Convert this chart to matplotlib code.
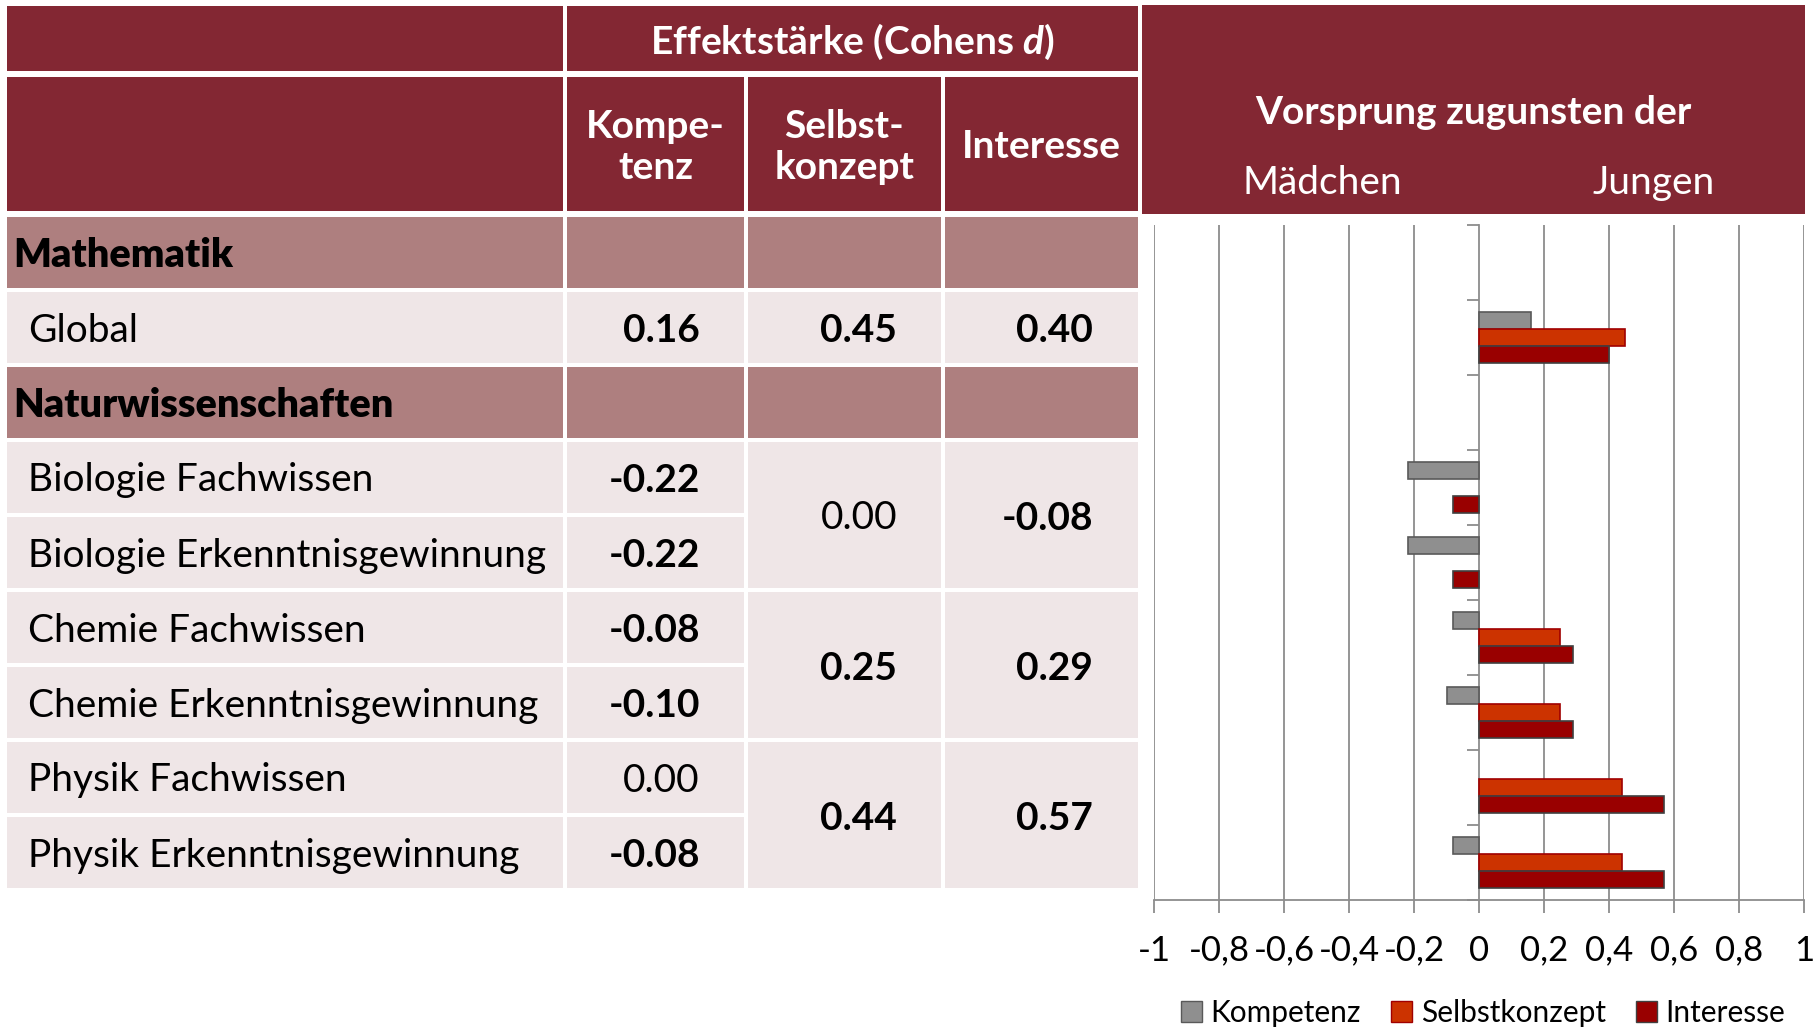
import numpy as np
import matplotlib
matplotlib.use("Agg")
import matplotlib.pyplot as plt
from matplotlib.patches import Rectangle, Patch

plt.rcParams['font.family'] = ['Lato', 'DejaVu Sans']
plt.rcParams['mathtext.fontset'] = 'custom'
plt.rcParams['mathtext.it'] = 'Lato:italic:bold'
plt.rcParams['mathtext.rm'] = 'Lato:bold'

# data
categories = ["Mathematik", "Global", "Naturwissenschaften",
              "Biologie Fachwissen", "Biologie Erkenntnisgewinnung",
              "Chemie Fachwissen", "Chemie Erkenntnisgewinnung",
              "Physik Fachwissen", "Physik Erkenntnisgewinnung"]
is_heading = [True, False, True, False, False, False, False, False, False]
kompetenz = [np.nan, 0.16, np.nan, -0.22, -0.22, -0.08, -0.10, 0.00, -0.08]
selbstkonzept = [np.nan, 0.45, np.nan, 0.00, 0.00, 0.25, 0.25, 0.44, 0.44]
interesse = [np.nan, 0.40, np.nan, -0.08, -0.08, 0.29, 0.29, 0.57, 0.57]
kompetenz_bold = [False, True, False, True, True, True, True, False, True]
selbst_bold = [False, True, False, False, False, True, True, True, True]
interesse_bold = [False, True, False, True, True, True, True, True, True]
# merged cells in the table: (first row, last row)
merged = [(1, 1), (3, 4), (5, 6), (7, 8)]
xticks = [-1, -0.8, -0.6, -0.4, -0.2, 0, 0.2, 0.4, 0.6, 0.8, 1]
series_names = ["Kompetenz", "Selbstkonzept", "Interesse"]

HEAD = "#832733"
SUB = "#ae7f7f"
LIGHT = "#efe6e7"
GRID = "#8c8c8c"
bar_colors = ["#8f8f8f", "#cc3300", "#990000"]
bar_edges = ["#595959", "#a00000", "#404040"]

W, H = 1814, 1028
fig = plt.figure(figsize=(W / 100, H / 100), dpi=100)

# background layer in pixel coords for the table
bg = fig.add_axes([0, 0, 1, 1])
bg.set_xlim(0, W)
bg.set_ylim(H, 0)
bg.axis("off")

col_x = [5, 565, 746, 943, 1140]
row_top = 215
row_h = 75
g = 2
dy = 3  # text baseline nudge

def cell(x0, x1, y0, y1, color):
    bg.add_patch(Rectangle((x0 + g, y0 + g), x1 - x0 - 2 * g, y1 - y0 - 2 * g,
                           facecolor=color, edgecolor="none"))

# header
cell(col_x[0], col_x[1], 4, 73, HEAD)
cell(col_x[1], col_x[4], 4, 73, HEAD)
cell(col_x[0], col_x[1], 75, 213, HEAD)
for i in range(1, 4):
    cell(col_x[i], col_x[i + 1], 75, 213, HEAD)
bg.add_patch(Rectangle((1142, 5), 663, 209, facecolor=HEAD, edgecolor="none"))

fs = 28
hfs = 28
bg.text((col_x[1] + col_x[4]) / 2, 42, r"Effektstärke (Cohens $d$)", color="white",
        fontsize=hfs, fontweight="bold", ha="center", va="center")
for i, lab in enumerate(["Kompe-\ntenz", "Selbst-\nkonzept", "Interesse"]):
    bg.text((col_x[i + 1] + col_x[i + 2]) / 2, 147, lab, color="white", fontsize=hfs,
            fontweight="bold", ha="center", va="center", linespacing=1.2)
bg.text(1473, 113, "Vorsprung zugunsten der", color="white", fontsize=hfs,
        fontweight="bold", ha="center", va="center")
bg.text(1322, 183, "Mädchen", color="white", fontsize=hfs, ha="center", va="center")
bg.text(1654, 183, "Jungen", color="white", fontsize=hfs, ha="center", va="center")

# body rows
for r, name in enumerate(categories):
    y0 = row_top + r * row_h
    y1 = y0 + row_h
    yc = (y0 + y1) / 2 + dy
    if is_heading[r]:
        for i in range(4):
            cell(col_x[i], col_x[i + 1], y0, y1, SUB)
        bg.text(13, yc, name, fontsize=fs + 0.5, fontweight="heavy", ha="left", va="center")
    else:
        cell(col_x[0], col_x[1], y0, y1, LIGHT)
        cell(col_x[1], col_x[2], y0, y1, LIGHT)
        bg.text(28, yc, name, fontsize=fs, ha="left", va="center")
        bg.text(700, yc, f"{kompetenz[r]:.2f}", fontsize=fs, ha="right", va="center",
                fontweight="bold" if kompetenz_bold[r] else "normal")

for a, b in merged:
    y0 = row_top + a * row_h
    y1 = row_top + (b + 1) * row_h
    yc = (y0 + y1) / 2 + dy
    cell(col_x[2], col_x[3], y0, y1, LIGHT)
    cell(col_x[3], col_x[4], y0, y1, LIGHT)
    bg.text(897, yc, f"{selbstkonzept[a]:.2f}", fontsize=fs, ha="right", va="center",
            fontweight="bold" if selbst_bold[a] else "normal")
    bg.text(1093, yc, f"{interesse[a]:.2f}", fontsize=fs, ha="right", va="center",
            fontweight="bold" if interesse_bold[a] else "normal")

# bar chart
ax = fig.add_axes([1154 / W, (H - 900) / H, 650 / W, 675 / H])
n = len(categories)
pos = np.arange(n) + 0.5
bh = 0.227
for k, vals in enumerate([kompetenz, selbstkonzept, interesse]):
    lws = [0 if v == 0 else 1.2 for v in vals]
    ax.barh(pos + (k - 1) * bh, vals, height=bh, color=bar_colors[k],
            edgecolor=bar_edges[k], linewidth=lws, zorder=3, label=series_names[k])
ax.set_xlim(-1, 1)
ax.set_ylim(n, 0)
ax.set_xticks(xticks)
ax.set_xticklabels([("%g" % t).replace(".", ",") for t in xticks], fontsize=25)
for t in xticks:
    if t != 0:
        ax.axvline(t, color=GRID, lw=1.3, zorder=1)
ax.spines[["top", "right"]].set_visible(False)
ax.spines["left"].set_position(("data", 0))
ax.spines["left"].set_color(GRID)
ax.spines["left"].set_linewidth(1.3)
ax.spines["bottom"].set_color(GRID)
ax.spines["bottom"].set_linewidth(1.3)
ax.set_yticks(np.arange(n + 1))
ax.set_yticklabels([])
ax.tick_params(axis="y", direction="out", length=9, color=GRID, width=1.3)
ax.tick_params(axis="x", direction="out", length=9, color=GRID, width=1.3, pad=16)

handles = [Patch(facecolor=bar_colors[k], edgecolor=bar_edges[k]) for k in range(3)]
fig.legend(handles, series_names, loc="center", bbox_to_anchor=(1483 / W, (H - 1013) / H),
           ncol=3, frameon=False, fontsize=21.5, handlelength=0.7, handleheight=0.7,
           handletextpad=0.3, columnspacing=1.0, borderpad=0)

fig.savefig("out.png", dpi=100)
